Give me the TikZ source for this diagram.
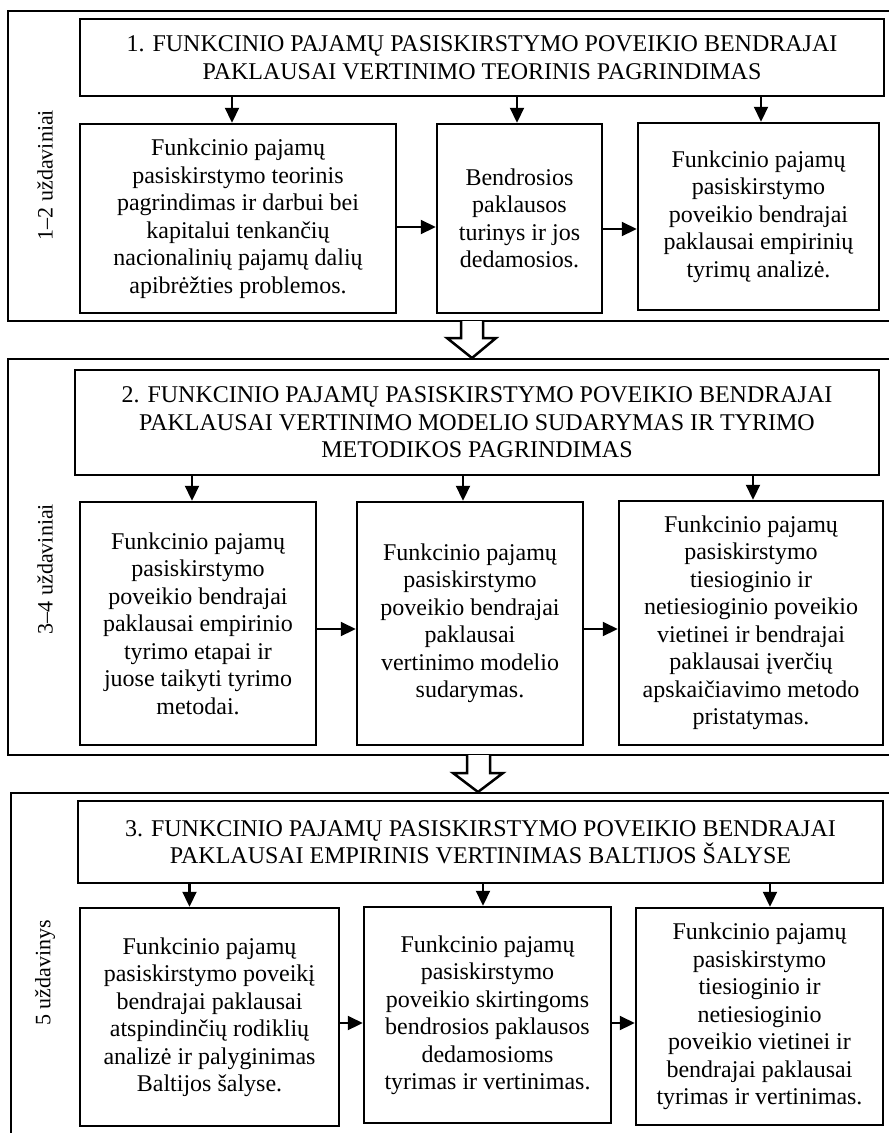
\documentclass[tikz,border=0pt]{standalone}
\usepackage{fontspec}
\setmainfont{Liberation Serif}
\usetikzlibrary{arrows.meta,calc}
\tikzset{
  frame/.style={draw, line width=2.5pt},
  box/.style={draw, line width=2.5pt, align=center, inner sep=0pt, font=\fontsize{24}{27.5}\selectfont},
  side/.style={rotate=90, font=\fontsize{22}{27.5}\selectfont, inner sep=0pt},
  arr/.style={line width=2.2pt, -{Triangle[length=15pt,width=14pt]}},
  hollow/.style={draw, line width=2.5pt, fill=white, line join=miter},
}
\begin{document}
\begin{tikzpicture}[x=1pt,y=-1pt]
\useasboundingbox (0,0) rectangle (889,1133);
\clip (0,0) rectangle (889,1133);
% frames
\draw[frame] (8,11) rectangle (900,321);
\draw[frame] (8,359) rectangle (900,755);
\draw[frame] (11,793) rectangle (900,1150);
% side labels
\node[side] (s1) at (45,175) {1–2 uždaviniai};
\node[side] (s2) at (45,569) {3–4 uždaviniai};
\node[side] (s3) at (45,973) {5 uždavinys};
% block arrows between frames
\draw[hollow] (461,321) -- (461,338) -- (447,338) -- (472,358) -- (496,338) -- (483,338) -- (483,321);
\draw[hollow] (467,755) -- (467,773) -- (453,773) -- (478,792) -- (503,773) -- (490,773) -- (490,755);
% section 1
\node[box, minimum width=804pt, minimum height=77pt] (t1) at (482,57.5)
  {1. FUNKCINIO PAJAMŲ PASISKIRSTYMO POVEIKIO BENDRAJAI\\ PAKLAUSAI VERTINIMO TEORINIS PAGRINDIMAS};
\node[box, minimum width=316pt, minimum height=189pt] (b1a) at (238,218.5)
  {Funkcinio pajamų\\ pasiskirstymo teorinis\\ pagrindimas ir darbui bei\\ kapitalui tenkančių\\ nacionalinių pajamų dalių\\ apibrėžties problemos.};
\node[box, minimum width=165pt, minimum height=189pt] (b1b) at (519.5,218.5)
  {Bendrosios\\ paklausos\\ turinys ir jos\\ dedamosios.};
\node[box, minimum width=241pt, minimum height=187pt] (b1c) at (758.5,216.5)
  {Funkcinio pajamų\\ pasiskirstymo\\ poveikio bendrajai\\ paklausai empirinių\\ tyrimų analizė.};
% section 2
\node[box, minimum width=804pt, minimum height=105pt] (t2) at (477,422.5)
  {2. FUNKCINIO PAJAMŲ PASISKIRSTYMO POVEIKIO BENDRAJAI\\ PAKLAUSAI VERTINIMO MODELIO SUDARYMAS IR TYRIMO\\ METODIKOS PAGRINDIMAS};
\node[box, minimum width=236pt, minimum height=243pt] (b2a) at (198,623.5)
  {Funkcinio pajamų\\ pasiskirstymo\\ poveikio bendrajai\\ paklausai empirinio\\ tyrimo etapai ir\\ juose taikyti tyrimo\\ metodai.};
\node[box, minimum width=226pt, minimum height=243pt] (b2b) at (470,623.5)
  {Funkcinio pajamų\\ pasiskirstymo\\ poveikio bendrajai\\ paklausai\\ vertinimo modelio\\ sudarymas.};
\node[box, minimum width=264pt, minimum height=244pt] (b2c) at (751,623)
  {Funkcinio pajamų\\ pasiskirstymo\\ tiesioginio ir\\ netiesioginio poveikio\\ vietinei ir bendrajai\\ paklausai įverčių\\ apskaičiavimo metodo\\ pristatymas.};
% section 3
\node[box, minimum width=805pt, minimum height=82pt] (t3) at (480.5,842)
  {3. FUNKCINIO PAJAMŲ PASISKIRSTYMO POVEIKIO BENDRAJAI\\ PAKLAUSAI EMPIRINIS VERTINIMAS BALTIJOS ŠALYSE};
\node[box, minimum width=259pt, minimum height=218pt] (b3a) at (209.5,1017)
  {Funkcinio pajamų\\ pasiskirstymo poveikį\\ bendrajai paklausai\\ atspindinčių rodiklių\\ analizė ir palyginimas\\ Baltijos šalyse.};
\node[box, minimum width=247pt, minimum height=216pt] (b3b) at (487.5,1015)
  {Funkcinio pajamų\\ pasiskirstymo\\ poveikio skirtingoms\\ bendrosios paklausos\\ dedamosioms\\ tyrimas ir vertinimas.};
\node[box, minimum width=247pt, minimum height=217pt] (b3c) at (759.5,1016.5)
  {Funkcinio pajamų\\ pasiskirstymo\\ tiesioginio ir\\ netiesioginio\\ poveikio vietinei ir\\ bendrajai paklausai\\ tyrimas ir vertinimas.};
% down arrows
\foreach \t/\b/\dx in {t1/b1a/-6, t1/b1b/-2.5, t1/b1c/2.5, t2/b2a/-6, t2/b2b/-7, t2/b2c/2, t3/b3a/-20, t3/b3b/-4.5, t3/b3c/10.5}
  \draw[arr] ([xshift=\dx pt]\b.north |- \t.south) -- ([xshift=\dx pt]\b.north);
% horizontal arrows
\foreach \a/\b/\dy in {b1a/b1b/-8.5, b1b/b1c/-10.5, b2a/b2b/-5.5, b2b/b2c/-5.5, b3a/b3b/-6, b3b/b3c/-8}
  \draw[arr] ([yshift=\dy pt]\a.east) -- ([yshift=\dy pt]\a.east -| \b.west);
\end{tikzpicture}
\end{document}
